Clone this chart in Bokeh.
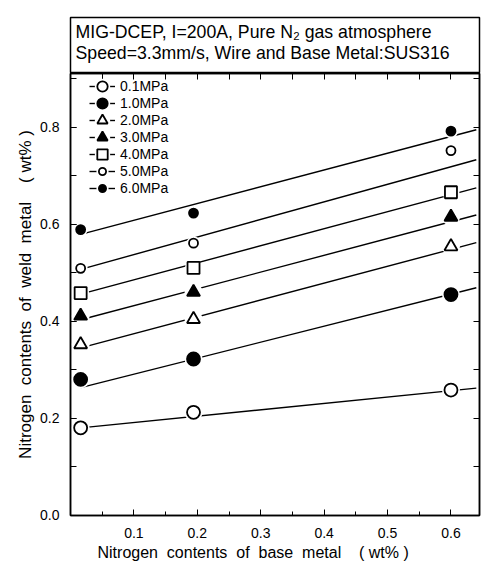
from bokeh.plotting import figure
from bokeh.models import (Range1d, LinearAxis, FixedTicker, Legend, LegendItem,
                          ColumnDataSource, Label, Title, PrintfTickFormatter)
from bokeh.layouts import column
from bokeh.embed import file_html
from bokeh.resources import INLINE

# Nitrogen content of the base metal (wt%)
base_n = [0.016, 0.194, 0.6]

# N2 gas pressure of each series
pressures = ["0.1MPa", "1.0MPa", "2.0MPa", "3.0MPa", "4.0MPa", "5.0MPa", "6.0MPa"]

# Nitrogen content of the weld metal (wt%) for each pressure
weld_n_01 = [0.180, 0.212, 0.258]
weld_n_10 = [0.280, 0.322, 0.455]
weld_n_20 = [0.352, 0.404, 0.554]
weld_n_30 = [0.411, 0.460, 0.615]
weld_n_40 = [0.458, 0.510, 0.666]
weld_n_50 = [0.509, 0.561, 0.752]
weld_n_60 = [0.589, 0.623, 0.792]

# Regression lines, evaluated at both ends of the base-metal range
fit_x = [0.016, 0.64]
fit_01 = [0.180, 0.262]
fit_10 = [0.263, 0.469]
fit_20 = [0.345, 0.562]
fit_30 = [0.403, 0.619]
fit_40 = [0.456, 0.675]
fit_50 = [0.507, 0.733]
fit_60 = [0.579, 0.795]

weld_series = [weld_n_01, weld_n_10, weld_n_20, weld_n_30, weld_n_40, weld_n_50, weld_n_60]
fit_series = [fit_01, fit_10, fit_20, fit_30, fit_40, fit_50, fit_60]

# marker shape, filled?, marker size (px)
styles = [
    ("circle", False, 13),
    ("circle", True, 13),
    ("triangle", False, 13),
    ("triangle", True, 13),
    ("square", False, 12),
    ("circle", False, 9),
    ("circle", True, 9),
]

FONT = "Liberation Sans"
X_TICKS = [0.1, 0.2, 0.3, 0.4, 0.5, 0.6]
X_MINOR = [0.05, 0.1, 0.15, 0.2, 0.25, 0.3, 0.35, 0.4, 0.45, 0.5, 0.55, 0.6]
Y_TICKS = [0.0, 0.2, 0.4, 0.6, 0.8]
Y_MINOR = [0.1, 0.2, 0.3, 0.4, 0.5, 0.6, 0.7, 0.8, 0.9]

# ---- header panel with the welding conditions ----
header = figure(width=481, height=73, x_range=Range1d(0, 1), y_range=Range1d(0, 1),
                output_backend="svg", toolbar_location=None,
                x_axis_type=None, y_axis_type=None,
                min_border_left=70, min_border_right=2, min_border_top=17, min_border_bottom=0)
header.grid.visible = False
header.outline_line_color = "black"
header.outline_line_width = 1.5
header.add_layout(Label(x=5, y=42, x_units="screen", y_units="screen",
                        text="MIG-DCEP, I=200A, Pure N\u2082 gas atmosphere",
                        text_font=FONT, text_font_size="17.7px",
                        text_baseline="middle", text_color="black"))
header.add_layout(Label(x=5, y=21, x_units="screen", y_units="screen",
                        text="Speed=3.3mm/s, Wire and Base Metal:SUS316",
                        text_font=FONT, text_font_size="17.7px",
                        text_baseline="middle", text_color="black"))

# ---- main plot ----
p = figure(width=481, height=493, x_range=Range1d(0, 0.645), y_range=Range1d(-0.0008, 0.911),
           output_backend="svg", toolbar_location=None,
           min_border_left=70, min_border_right=2, min_border_top=0, min_border_bottom=51)
p.grid.visible = False
p.outline_line_color = "black"
p.outline_line_width = 1.5

xa = p.xaxis[0]
xa.ticker = FixedTicker(ticks=X_TICKS, minor_ticks=X_MINOR)
xa.formatter = PrintfTickFormatter(format="%.1f")
ya = p.yaxis[0]
ya.ticker = FixedTicker(ticks=Y_TICKS, minor_ticks=Y_MINOR)
ya.formatter = PrintfTickFormatter(format="%.1f")
ya.axis_label = "Nitrogen\u00a0 contents\u00a0 of\u00a0 weld\u00a0 metal\u00a0\u00a0\u00a0 (\u00a0wt%\u00a0)"

for ax in (xa, ya):
    ax.major_tick_in = 6
    ax.major_tick_out = 0
    ax.minor_tick_in = 4
    ax.minor_tick_out = 0
    ax.axis_line_color = "black"
    ax.axis_line_width = 1.5
    ax.major_tick_line_color = "black"
    ax.minor_tick_line_color = "black"
    ax.major_label_text_font = FONT
    ax.major_label_text_font_size = "14px"
    ax.major_label_text_color = "black"
    ax.axis_label_text_font = FONT
    ax.axis_label_text_font_style = "normal"
    ax.axis_label_text_color = "black"
ya.minor_tick_in = 6
xa.major_label_standoff = 12
ya.major_label_standoff = 11
ya.axis_label_standoff = 2
ya.axis_label_text_font_size = "17px"

# x-axis title, set slightly left of the frame centre
p.add_layout(Title(text="Nitrogen\u00a0 contents\u00a0 of\u00a0 base\u00a0 metal\u00a0\u00a0\u00a0 (\u00a0wt%\u00a0)",
                   align="left", offset=27, standoff=3,
                   text_font=FONT, text_font_size="16px", text_font_style="normal",
                   text_color="black"), "below")

# tick-only axes on the right and top edges
right = LinearAxis(ticker=FixedTicker(ticks=[], minor_ticks=Y_MINOR))
top = LinearAxis(ticker=FixedTicker(ticks=[], minor_ticks=X_MINOR))
for ax in (right, top):
    ax.minor_tick_in = 6
    ax.minor_tick_out = 0
    ax.major_tick_in = 0
    ax.major_tick_out = 0
    ax.major_label_standoff = 0
    ax.axis_line_color = "black"
    ax.axis_line_width = 1.5
    ax.minor_tick_line_color = "black"
p.add_layout(right, "right")
p.add_layout(top, "above")

legend_kw = dict(orientation="vertical", label_text_font=FONT, label_text_font_size="14px",
                 label_text_color="black", label_standoff=5, glyph_width=26,
                 padding=0, margin=0, border_line_color=None, background_fill_alpha=0)
ROW_PITCH = 17        # px between legend rows
FIRST_ROW = 13        # px from the frame top to the first row centre
FRAME_H = 442         # frame height in px

for i, (name, ys, fit, (marker, filled, size)) in enumerate(
        zip(pressures, weld_series, fit_series, styles)):
    src = ColumnDataSource(dict(x=base_n, y=ys))
    fit_src = ColumnDataSource(dict(x=fit_x, y=fit))
    ln = p.line("x", "y", source=fit_src, line_color="black", line_width=1.4)
    # white ring that breaks the fitted line around each marker
    halo = p.scatter("x", "y", source=src, marker="circle", size=size,
                     fill_color="white", line_color="white", line_width=5)
    mk = p.scatter("x", "y", source=src, marker=marker, size=size,
                   fill_color="black" if filled else "white",
                   line_color="black", line_width=1.8)
    # one legend per row so the key marker can follow the marker size
    gh = 26 if size > 10 else 18
    centre = FIRST_ROW + i * ROW_PITCH
    p.add_layout(Legend(items=[LegendItem(label=name, renderers=[ln, halo, mk])],
                        location=(19, FRAME_H - centre - gh / 2),
                        glyph_height=gh, label_height=gh, **legend_kw))

layout = column(header, p, spacing=0)
open("out.html", "w").write(file_html(layout, INLINE))
